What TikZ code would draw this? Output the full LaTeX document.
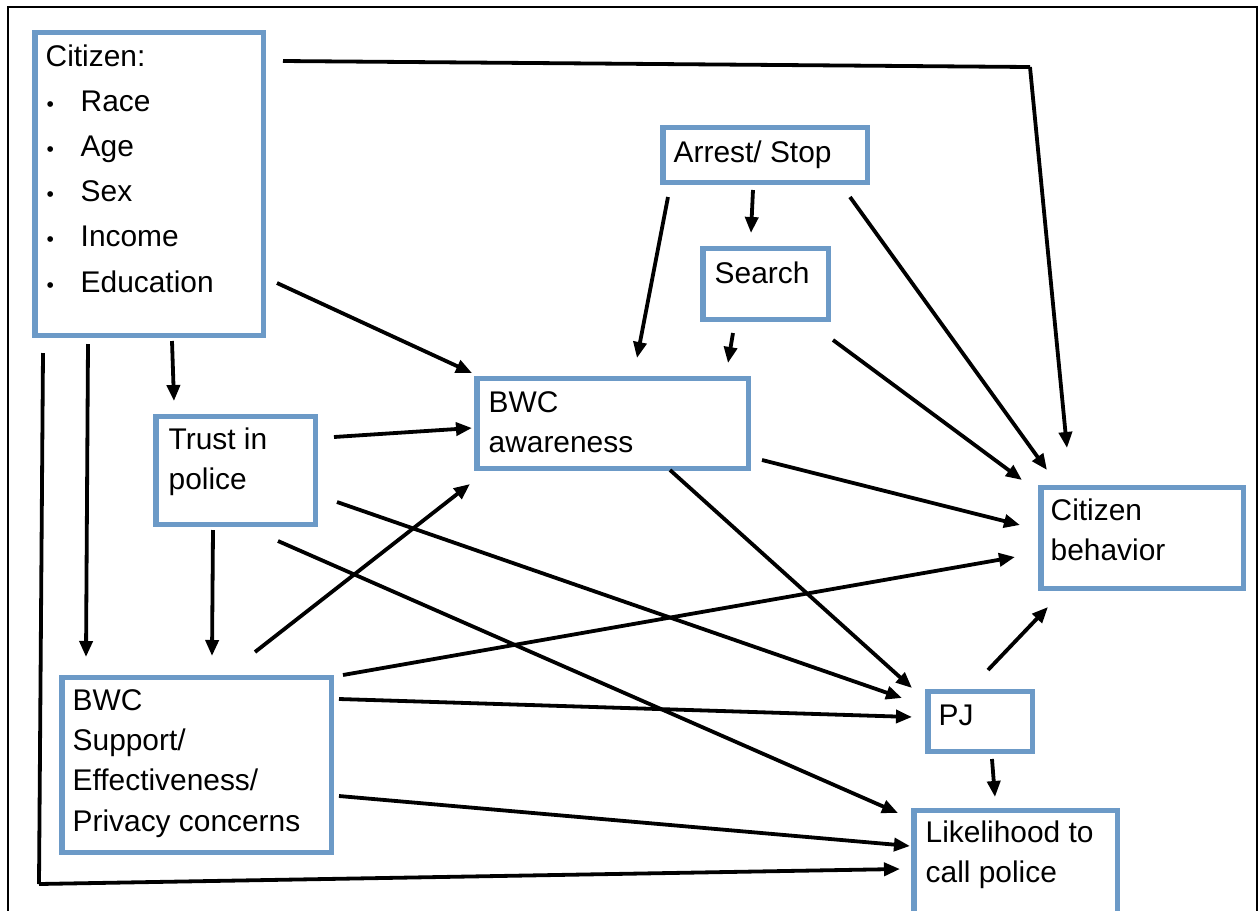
\documentclass[tikz,border=0pt]{standalone}
\usepackage{fontspec}
\setmainfont{Liberation Sans}
\usetikzlibrary{arrows.meta,calc}
\definecolor{boxblue}{RGB}{108,154,199}
\newcommand{\blt}{\makebox[0.35cm][l]{\hspace{0.01cm}{\fontsize{6}{6}\selectfont •}}}
\begin{document}
\begin{tikzpicture}[x=0.01cm,y=-0.01cm,
  box/.style={draw=boxblue,line width=0.05cm,inner sep=0pt,outer sep=0pt,anchor=north west},
  txt/.style={anchor=base west,inner sep=0pt,align=left,font=\fontsize{8.5}{11.1}\selectfont},
  conn/.style={line width=0.038cm,-{Triangle[length=0.16cm,width=0.13cm]}},
  plainline/.style={line width=0.038cm}]
\useasboundingbox (0,0) rectangle (1259,911);
\clip (0,0) rectangle (1259,911);
\fill[white] (0,0) rectangle (1259,911);
\draw[line width=0.028cm] (8,7) rectangle (1257,1000);

% boxes
\node[box,minimum width=2.28cm,minimum height=3.03cm] (cit) at (35,32) {};
\node[box,minimum width=2.04cm,minimum height=0.55cm] (arr) at (663,127) {};
\node[box,minimum width=1.25cm,minimum height=0.71cm] (sea) at (703,248) {};
\node[box,minimum width=2.71cm,minimum height=0.90cm] (aw) at (477,378) {};
\node[box,minimum width=1.59cm,minimum height=1.08cm] (tru) at (156,416) {};
\node[box,minimum width=2.69cm,minimum height=1.75cm] (sup) at (62,677) {};
\node[box,minimum width=2.02cm,minimum height=1.01cm] (cb) at (1041,487) {};
\node[box,minimum width=1.04cm,minimum height=0.60cm] (pj) at (928,691) {};
\node[box,minimum width=2.03cm,minimum height=1.30cm] (lik) at (914,810) {};

% texts (anchor = baseline of the last line)
\node[txt,font=\fontsize{8.5}{12.8}\selectfont] (citT) at (45,292)
  {Citizen:\\
   \blt Race\\
   \blt Age\\
   \blt Sex\\
   \blt Income\\
   \blt Education};
\node[txt] (arrT) at (673,162) {Arrest/ Stop};
\node[txt] (seaT) at (714,283) {Search};
\node[txt] (awT) at (488,452) {BWC\\awareness};
\node[txt] (truT) at (168,489) {Trust in\\police};
\node[txt,font=\fontsize{8.5}{11.4}\selectfont] (supT) at (72,831)
  {BWC\\Support/\\Effectiveness/\\Privacy concerns};
\node[txt] (cbT) at (1050,560) {Citizen\\behavior};
\node[txt] (pjT) at (938,725) {PJ};
\node[txt] (likT) at (925,882) {Likelihood to\\call police};

% bend points
\coordinate (k1) at (1030,67);
\coordinate (k2) at (39,884);

% connectors
\draw[plainline] ($(cit.north west)+({283-35},{61-32})$) -- (k1);
\draw[conn] (k1) -- ($(cb.north west)+({1067-1041},{448-487})$);
\draw[conn] ($(cit.north west)+({277-35},{283-32})$) -- ($(aw.north west)+({472-477},{373-378})$);
\draw[conn] ($(cit.north west)+({172-35},{341-32})$) -- ($(tru.north west)+({174-156},{401-416})$);
\draw[conn] ($(cit.north west)+({88-35},{344-32})$) -- ($(sup.north west)+({86-62},{657-677})$);
\draw[plainline] ($(cit.north west)+({43-35},{353-32})$) -- (k2);
\draw[conn] (k2) -- ($(lik.north west)+({900-914},{869-810})$);

\draw[conn] ($(tru.north west)+({334-156},{437-416})$) -- ($(aw.north west)+({472-477},{428-378})$);
\draw[conn] ($(tru.north west)+({213-156},{530-416})$) -- ($(sup.north west)+({212-62},{656-677})$);
\draw[conn] ($(tru.north west)+({337-156},{502-416})$) -- ($(pj.north west)+({902-928},{698-691})$);
\draw[conn] ($(tru.north west)+({278-156},{541-416})$) -- ($(lik.north west)+({898-914},{813-810})$);

\draw[conn] ($(sup.north west)+({255-62},{652-677})$) -- ($(aw.north west)+({470-477},{484-378})$);
\draw[conn] ($(sup.north west)+({343-62},{675-677})$) -- ($(cb.north west)+({1015-1041},{557-487})$);
\draw[conn] ($(sup.north west)+({339-62},{699-677})$) -- ($(pj.north west)+({912-928},{717-691})$);
\draw[conn] ($(sup.north west)+({339-62},{796-677})$) -- ($(lik.north west)+({910-914},{846-810})$);

\draw[conn] ($(arr.north west)+({668-663},{197-127})$) -- ($(aw.north west)+({637-477},{358-378})$);
\draw[conn] ($(arr.north west)+({753-663},{190-127})$) -- ($(sea.north west)+({751-703},{233-248})$);
\draw[conn] ($(arr.north west)+({850-663},{197-127})$) -- ($(cb.north west)+({1047-1041},{470-487})$);

\draw[conn] ($(sea.north west)+({733-703},{333-248})$) -- ($(aw.north west)+({728-477},{363-378})$);
\draw[conn] ($(sea.north west)+({833-703},{340-248})$) -- ($(cb.north west)+({1022-1041},{480-487})$);

\draw[conn] ($(aw.north west)+({762-477},{460-378})$) -- ($(cb.north west)+({1020-1041},{525-487})$);
\draw[conn] ($(aw.north west)+({670-477},{470-378})$) -- ($(pj.north west)+({912-928},{688-691})$);

\draw[conn] ($(pj.north west)+({988-928},{670-691})$) -- ($(cb.north west)+({1048-1041},{607-487})$);
\draw[conn] ($(pj.north west)+({992-928},{759-691})$) -- ($(lik.north west)+({995-914},{797-810})$);
\end{tikzpicture}
\end{document}
